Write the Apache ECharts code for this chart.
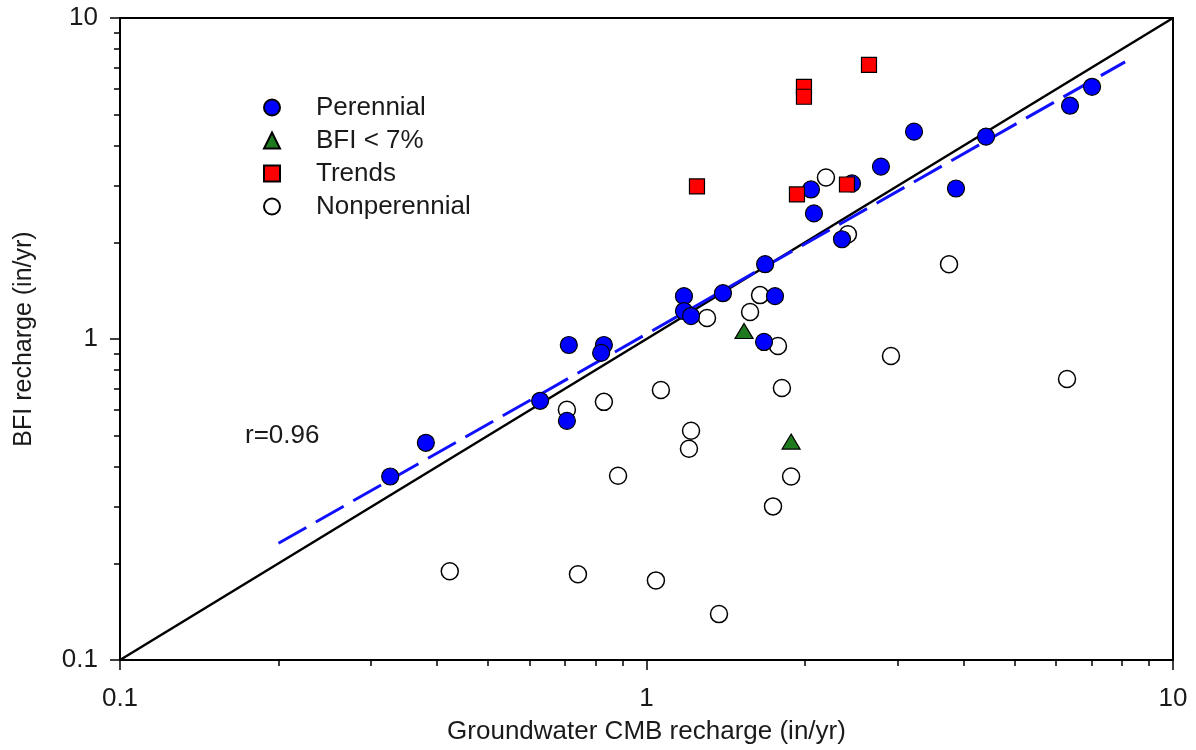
<!DOCTYPE html>
<html><head><meta charset="utf-8">
<script src="https://cdn.jsdelivr.net/npm/echarts@6/dist/echarts.min.js"></script>
<style>html,body{margin:0;padding:0;background:#fff}#c{width:1196px;height:750px}</style>
</head><body><div id="c"></div>
<script>
// Data (in/yr)
const perennial = [[0.326,0.373],[0.381,0.475],[0.628,0.642],[0.706,0.556],[0.712,0.958],[0.830,0.958],[0.820,0.905],
  [1.178,1.360],[1.178,1.222],[1.215,1.179],[1.397,1.389],[1.680,1.710],[1.754,1.360],[1.672,0.979],[2.351,2.045],
  [2.080,2.462],[2.053,2.923],[2.456,3.052],[2.788,3.445],[3.222,4.426],[4.414,4.270],[3.871,2.943],[6.374,5.330],[7.019,6.105]];
const bfiLow = [[1.532,1.059],[1.882,0.479]];
const trends = [[1.247,2.987],[1.931,2.820],[2.403,3.029],[1.991,6.105],[1.991,5.684],[2.646,7.145]];
const nonperennial = [[2.192,3.185],[2.413,2.119],[3.755,1.710],[1.643,1.370],[1.573,1.213],[1.303,1.162],[1.777,0.951],
  [2.913,0.885],[6.291,0.751],[1.808,0.704],[1.065,0.694],[0.830,0.637],[0.706,0.602],[1.215,0.518],[1.204,0.455],
  [0.883,0.375],[1.882,0.373],[1.739,0.301],[0.423,0.189],[0.741,0.185],[1.042,0.177],[1.373,0.139]];
const oneToOne = [[0.1,0.1],[10,10]];
const regression = [[0.2,0.231],[8.11,7.30]];
const majorTicks = [0.1, 1, 10];
const minorTicks = [0.2,0.3,0.4,0.5,0.6,0.7,0.8,0.9,2,3,4,5,6,7,8,9];
const legendNames = ['Perennial','BFI < 7%','Trends','Nonperennial'];
const rText = 'r=0.96';

const FONT = 'Arial, "Liberation Sans", sans-serif';
const TXT = '#1a1a1a';
const chart = echarts.init(document.getElementById('c'), null, {renderer:'canvas'});

function mainAxis(name, isX){
  return {
    type:'log', logBase:10, min:0.1, max:10,
    position: isX ? 'bottom' : 'left',
    name: name, nameLocation:'middle', nameGap: isX ? 59 : 83,
    nameTextStyle:{fontFamily:FONT, fontSize: isX ? 26 : 25, color:TXT},
    axisLine:{show:true, lineStyle:{color:'#000', width:2}},
    axisTick:{show:true, inside:false, length:10, customValues: majorTicks, lineStyle:{color:'#000', width:1.5}},
    axisLabel:{show:true, margin: isX ? 26 : 22, fontFamily:FONT, fontSize:26, color:TXT, customValues: majorTicks,
      formatter: v => String(v)},
    splitLine:{show:false}, minorTick:{show:false}
  };
}
function minorAxis(isX){
  return {
    type:'log', logBase:10, min:0.1, max:10,
    position: isX ? 'bottom' : 'left',
    axisLine:{show:false},
    axisTick:{show:true, inside:false, length:6, customValues: minorTicks, lineStyle:{color:'#000', width:1.5}},
    axisLabel:{show:false},
    splitLine:{show:false}
  };
}

const option = {
  backgroundColor:'#fff',
  animation:false,
  grid:{left:120, right:23, top:18, bottom:88, show:true, borderColor:'#000', borderWidth:2, containLabel:false},
  xAxis:[mainAxis('Groundwater CMB recharge (in/yr)', true), minorAxis(true)],
  yAxis:[mainAxis('BFI recharge (in/yr)', false), minorAxis(false)],
  legend:{
    orient:'vertical', left:263, top:91, padding:0, itemGap:0,
    itemWidth:16, itemHeight:16,
    data: legendNames,
    textStyle:{fontFamily:FONT, fontSize:26, color:TXT, lineHeight:33, padding:[0,0,0,31]}
  },
  graphic:[{type:'text', left:245, top:423, style:{text:rText, fontFamily:FONT, fontSize:26, fill:TXT}}],
  series:[
    {type:'line', data:oneToOne, symbol:'none', silent:true, lineStyle:{color:'#000', width:2.5}, z:1},
    {type:'line', data:regression, symbol:'none', silent:true, lineStyle:{color:'#1010ff', width:3, type:[32,11]}, z:1},
    {name:'Nonperennial', type:'scatter', data:nonperennial, symbol:'circle', symbolSize:17,
      itemStyle:{color:'#fff', borderColor:'#000', borderWidth:1.5, opacity:1}, z:2},
    {name:'Perennial', type:'scatter', data:perennial, symbol:'circle', symbolSize:17,
      itemStyle:{color:'#0000ff', borderColor:'#000', borderWidth:1.2, opacity:1}, z:3},
    {name:'BFI < 7%', type:'scatter', data:bfiLow, symbol:'triangle', symbolSize:[18,15],
      itemStyle:{color:'#1f7a1f', borderColor:'#000', borderWidth:1.2, opacity:1}, z:4},
    {name:'Trends', type:'scatter', data:trends, symbol:'rect', symbolSize:15,
      itemStyle:{color:'#ff0000', borderColor:'#000', borderWidth:1.2, opacity:1}, z:5}
  ]
};
chart.setOption(option);
</script></body></html>
